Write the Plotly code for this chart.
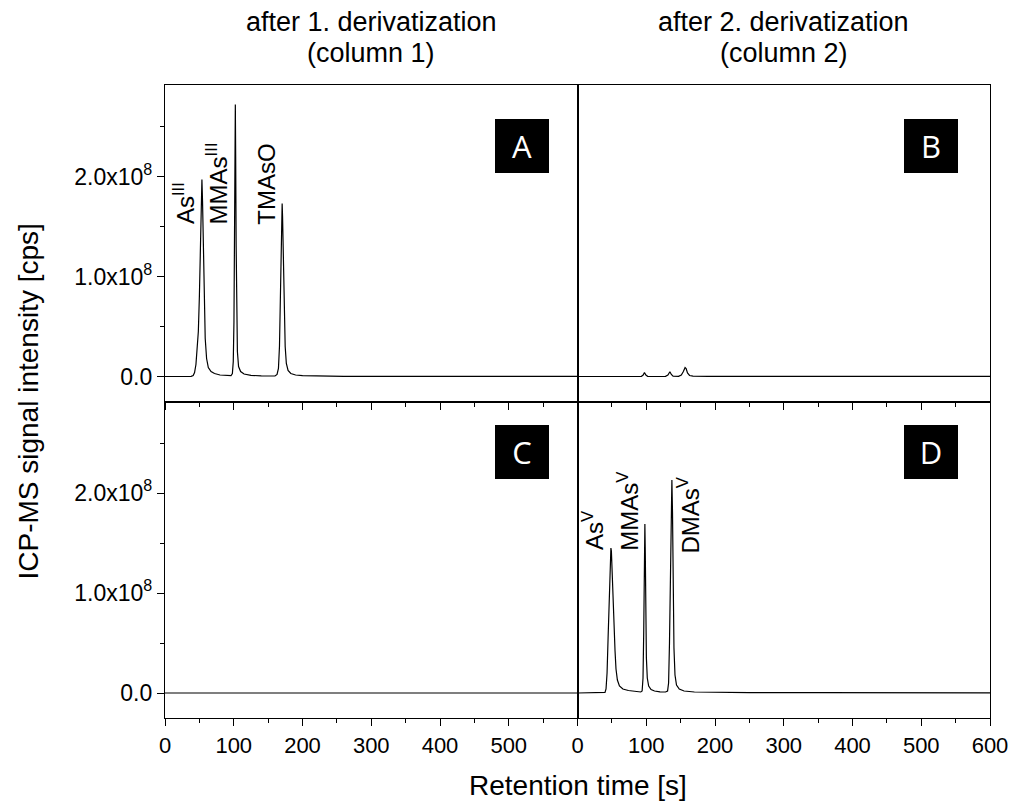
import plotly.graph_objects as go
from plotly.subplots import make_subplots

# Chromatograms: (retention time [s], ICP-MS intensity [10^8 cps])
trace_a = [(0, 0), (30, 0), (38, 0.002), (41, 0.01), (43, 0.04), (45, 0.12), (47, 0.28),
           (48.5, 0.45), (50, 0.80), (51.5, 1.25), (52.8, 1.75), (53.7, 1.97), (54.6, 1.75),
           (55.8, 1.25), (57, 0.72), (58.5, 0.38), (60.5, 0.18), (63, 0.09), (67, 0.05),
           (72, 0.03), (80, 0.015), (90, 0.008), (96, 0.008), (98, 0.03), (99.3, 0.15),
           (100.3, 0.55), (101.2, 1.4), (101.8, 2.2), (102.3, 2.72), (102.8, 2.2), (103.5, 1.3),
           (104.3, 0.6), (105.3, 0.25), (107, 0.1), (110, 0.05), (115, 0.025), (125, 0.012),
           (140, 0.006), (155, 0.005), (160, 0.005), (163, 0.02), (165, 0.08), (166.5, 0.3),
           (167.8, 0.7), (169, 1.2), (170, 1.65), (170.4, 1.73), (171, 1.6), (172, 1.15),
           (173.3, 0.65), (174.8, 0.3), (176.5, 0.13), (179, 0.06), (183, 0.03), (190, 0.015),
           (200, 0.008), (220, 0.004), (260, 0.002), (600, 0.002)]

trace_b = [(0, 0), (20, 0.001), (35, 0), (42, 0.003), (48, 0.004), (55, 0.002), (70, 0),
           (85, 0), (93, 0.002), (95.5, 0.015), (97.4, 0.04), (99.5, 0.015), (102, 0.002),
           (120, 0), (128, 0.002), (131.5, 0.015), (134.4, 0.047), (136.5, 0.02), (139, 0.004),
           (147, 0.002), (151, 0.015), (154, 0.05), (156.5, 0.09), (158, 0.08), (160, 0.035),
           (163, 0.01), (168, 0.003), (190, 0.002), (600, 0.002)]

trace_c = [(0, 0), (40, 0), (47, 0.005), (55, 0.006), (62, 0.002), (80, 0.001), (95, 0.004),
           (103, 0.003), (115, 0.001), (135, 0.002), (143, 0.007), (150, 0.004), (162, 0.002),
           (172, 0.004), (180, 0.002), (195, 0), (600, 0)]

trace_d = [(0, 0), (30, 0), (38, 0.002), (40, 0.006), (41.5, 0.04), (43, 0.2), (44.5, 0.55),
           (46, 0.95), (47.5, 1.3), (48.6, 1.45), (49.3, 1.42), (49.8, 1.3), (50.6, 1.27),
           (51.8, 1.05), (53.2, 0.7), (54.6, 0.42), (56, 0.24), (58, 0.13), (61, 0.07),
           (66, 0.04), (74, 0.025), (84, 0.015), (92, 0.01), (94, 0.02), (95.3, 0.15),
           (96.3, 0.6), (97.2, 1.3), (98, 1.69), (98.6, 1.4), (99.3, 0.8), (100.2, 0.35),
           (101.5, 0.15), (103.5, 0.07), (107, 0.035), (112, 0.02), (120, 0.012), (128, 0.01),
           (131, 0.02), (132.5, 0.1), (133.8, 0.5), (135, 1.2), (136.3, 1.9), (137.3, 2.13),
           (138.2, 1.8), (139.2, 1.0), (140.3, 0.45), (141.8, 0.18), (144, 0.08), (148, 0.04),
           (155, 0.02), (170, 0.01), (200, 0.006), (250, 0.004), (350, 0.003), (600, 0.002)]

# Peak annotations: (text, time, bottom of label in 10^8 cps)
peaks_a = [("As<sup>III</sup>", 27, 1.5), ("MMAs<sup>III</sup>", 75.5, 1.5), ("TMAsO", 146.5, 1.5)]
peaks_d = [("As<sup>V</sup>", 22.7, 1.41), ("MMAs<sup>V</sup>", 73, 1.40), ("DMAs<sup>V</sup>", 160.7, 1.38)]

column_titles = [("after 1. derivatization", "(column 1)"), ("after 2. derivatization", "(column 2)")]
panel_letters = ["A", "B", "C", "D"]

x_ticks_left = [0, 100, 200, 300, 400, 500]
x_ticks_right = [0, 100, 200, 300, 400, 500, 600]
x_minor = [50, 150, 250, 350, 450, 550]
y_ticks = [0, 1, 2]
y_ticktext = ["0.0", "1.0x10<sup>8</sup>", "2.0x10<sup>8</sup>"]
y_minor = [0.5, 1.5, 2.5]

Y_RANGE = [-0.25, 2.915]
SANS = "Liberation Sans, Arial, sans-serif"

fig = make_subplots(rows=2, cols=2, horizontal_spacing=0, vertical_spacing=0)

for data, (r, c) in zip([trace_a, trace_b, trace_c, trace_d], [(1, 1), (1, 2), (2, 1), (2, 2)]):
    fig.add_trace(go.Scatter(x=[p[0] for p in data], y=[p[1] for p in data], mode="lines",
                             line=dict(color="black", width=1.2), hoverinfo="skip"),
                  row=r, col=c)

for r in (1, 2):
    for c in (1, 2):
        fig.update_xaxes(range=[0, 600], showline=True, linecolor="black", linewidth=1.2,
                         mirror=True, showgrid=False, zeroline=False,
                         tickmode="array", tickvals=x_ticks_left if c == 1 else x_ticks_right,
                         ticks="outside", ticklen=7, tickwidth=1.2, tickcolor="black",
                         showticklabels=(r == 2),
                         tickfont=dict(family=SANS, size=22, color="black"),
                         minor=dict(tickvals=x_minor, ticks="outside", ticklen=4,
                                    tickwidth=1, tickcolor="black"),
                         row=r, col=c)
        if c == 1:
            fig.update_yaxes(range=Y_RANGE, showline=True, linecolor="black", linewidth=1.2,
                             mirror=True, showgrid=False, zeroline=False,
                             tickmode="array", tickvals=y_ticks, ticktext=y_ticktext,
                             ticks="outside", ticklen=7, tickwidth=1.2, tickcolor="black",
                             tickfont=dict(family=SANS, size=23, color="black"),
                             minor=dict(tickvals=y_minor, ticks="outside", ticklen=4,
                                        tickwidth=1, tickcolor="black"),
                             row=r, col=c)
        else:
            fig.update_yaxes(range=Y_RANGE, showline=True, linecolor="black", linewidth=1.2,
                             mirror=True, showgrid=False, zeroline=False, ticks="",
                             showticklabels=False, row=r, col=c)

annotations = []

# peak labels, rotated
for peaks, xr, yr in [(peaks_a, "x", "y"), (peaks_d, "x4", "y4")]:
    for text, t, v in peaks:
        annotations.append(dict(text=text, x=t, y=v, xref=xr, yref=yr, textangle=-90,
                                xanchor="center", yanchor="bottom", showarrow=False,
                                font=dict(family=SANS, size=24, color="black")))

# panel letters in black squares
letter_pos = {"A": ("x domain", "y domain", 0.932, 0.893),
              "B": ("x2 domain", "y2 domain", 0.922, 0.893),
              "C": ("x3 domain", "y3 domain", 0.932, 0.926),
              "D": ("x4 domain", "y4 domain", 0.922, 0.926)}
for letter in panel_letters:
    xr, yr, xd, yd = letter_pos[letter]
    annotations.append(dict(text=letter, x=xd, y=yd, xref=xr, yref=yr, xanchor="right",
                            yanchor="top", showarrow=False, bgcolor="black", width=54,
                            height=54, borderpad=0, borderwidth=0, align="center",
                            valign="middle",
                            font=dict(family="Open Sans", size=31, color="white")))

# column titles, two lines each
for i, (line1, line2) in enumerate(column_titles):
    for text, ypos in [(line1, 1.0995), (line2, 1.0506)]:
        annotations.append(dict(text=text, x=0.25 + 0.5 * i, y=ypos, xref="paper",
                                yref="paper", xanchor="center", yanchor="middle",
                                showarrow=False, font=dict(family=SANS, size=27, color="black")))

# axis titles
annotations.append(dict(text="Retention time [s]", x=0.5006, y=-0.1074, xref="paper",
                        yref="paper", xanchor="center", yanchor="middle", showarrow=False,
                        font=dict(family=SANS, size=28, color="black")))
annotations.append(dict(text="ICP-MS signal intensity [cps]", x=-0.166, y=0.5, xref="paper",
                        yref="paper", xanchor="center", yanchor="middle", textangle=-90,
                        showarrow=False, font=dict(family=SANS, size=28, color="black")))

fig.update_layout(width=1020, height=802, margin=dict(l=165, r=22, t=85, b=84),
                  paper_bgcolor="white", plot_bgcolor="white", showlegend=False,
                  annotations=annotations)

fig.write_html("out.html")
